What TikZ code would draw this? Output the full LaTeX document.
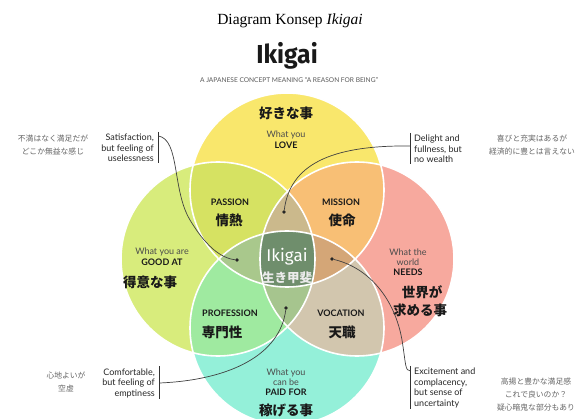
\documentclass[tikz,border=0pt]{standalone}
\usepackage{fontspec}
\setmainfont{Liberation Serif}
\setsansfont{Lato}
\newfontfamily\jp{Noto Sans CJK JP}
\newfontfamily\ikifont{Fira Sans}
\definecolor{cT}{HTML}{F9E76C}
\definecolor{cL}{HTML}{D8EC7C}
\definecolor{cR}{HTML}{F7A99E}
\definecolor{cB}{HTML}{94F0D9}
\definecolor{cTL}{HTML}{D6E262}
\definecolor{cTR}{HTML}{F8BF75}
\definecolor{cLB}{HTML}{9FEAA0}
\definecolor{cRB}{HTML}{D2C6AE}
\definecolor{cTLR}{HTML}{CBB98C}
\definecolor{cTLB}{HTML}{A9C88C}
\definecolor{cTRB}{HTML}{D4A677}
\definecolor{cLRB}{HTML}{A6C58E}
\definecolor{cQ}{HTML}{6F8E6C}
\tikzset{
  lbl/.style={font=\sffamily\fontsize{9}{10}\selectfont, text=black!70, align=center, inner sep=0pt},
  capl/.style={font=\sffamily\bfseries\fontsize{9}{10}\selectfont, text=black!90, align=center, inner sep=0pt},
  jpl/.style={font=\jp\bfseries\fontsize{13.5}{18}\selectfont, text=black!90, align=center, inner sep=0pt},
  note/.style={font=\sffamily\fontsize{9}{10.5}\selectfont, text=black!85, inner sep=0pt},
  jpnote/.style={font=\jp\fontsize{7.8}{13}\selectfont, text=black!60, align=center, inner sep=0pt},
  dotn/.style={circle, fill=black!85, inner sep=0pt, minimum size=3.6pt},
  conn/.style={draw=black!75, line width=0.7pt},
  barl/.style={draw=black!80, line width=1.3pt},
  ring/.style={draw=white, line width=1.6pt},
}
\begin{document}
\begin{tikzpicture}[x=1pt,y=-1pt]
\useasboundingbox (0,0) rectangle (580,419);
\fill[white] (0,0) rectangle (580,419);
\def\r{97}
\coordinate (T) at (287,190);
\coordinate (L) at (218,259);
\coordinate (R) at (357,259);
\coordinate (B) at (287,328);
% single circles
\fill[cT] (T) circle (\r);
\fill[cL] (L) circle (\r);
\fill[cR] (R) circle (\r);
\fill[cB] (B) circle (\r);
% pairs
\begin{scope}
  \clip (T) circle (\r);
  \fill[cTL] (L) circle (\r);
  \fill[cTR] (R) circle (\r);
\end{scope}
\begin{scope}
  \clip (B) circle (\r);
  \fill[cLB] (L) circle (\r);
  \fill[cRB] (R) circle (\r);
\end{scope}
% triples
\begin{scope}
  \clip (T) circle (\r);
  \begin{scope}
    \clip (L) circle (\r);
    \fill[cTLR] (R) circle (\r);
    \fill[cTLB] (B) circle (\r);
  \end{scope}
  \begin{scope}
    \clip (R) circle (\r);
    \fill[cTRB] (B) circle (\r);
  \end{scope}
\end{scope}
\begin{scope}
  \clip (B) circle (\r);
  \clip (L) circle (\r);
  \fill[cLRB] (R) circle (\r);
\end{scope}
% all four
\begin{scope}
  \clip (T) circle (\r);
  \clip (B) circle (\r);
  \clip (L) circle (\r);
  \fill[cQ] (R) circle (\r);
\end{scope}
% outlines
\draw[ring] (T) circle (\r);
\draw[ring] (L) circle (\r);
\draw[ring] (R) circle (\r);
\draw[ring] (B) circle (\r);

% titles
\node[font=\fontsize{15.5}{17}\selectfont, inner sep=0pt] (title) at (290,21) {Diagram Konsep \textit{Ikigai}};
\node[font=\ikifont\bfseries\fontsize{26}{28}\selectfont, inner sep=0pt, xscale=0.95, text=black!90] (iki) at (287,56) {Ikigai};
\node[font=\sffamily\fontsize{6.6}{7}\selectfont, text=black!65, inner sep=0pt] (sub) at (289,80) {A JAPANESE CONCEPT MEANING \textquotedblleft A REASON FOR BEING\textquotedblright};

% circle labels
\node[jpl] (loveJ) at (286,113) {好きな事};
\node[lbl] (love1) at (286,135) {What you};
\node[capl] (love2) at (286,145) {LOVE};

\node[lbl] (good1) at (162,252) {What you are};
\node[capl] (good2) at (162,262) {GOOD AT};
\node[jpl] (goodJ) at (150,282) {得意な事};

\node[lbl] (need1) at (408,257) {What the\\world};
\node[capl] (need2) at (408,272) {NEEDS};
\node[jpl] (needJ1) at (422,292) {世界が};
\node[jpl] (needJ2) at (420,310) {求める事};

\node[lbl] (paid1) at (286,377) {What you\\can be};
\node[capl] (paid2) at (286,392) {PAID FOR};
\node[jpl] (paidJ) at (286,410) {稼げる事};

\node[capl] (pas) at (230,202) {PASSION};
\node[jpl] (pasJ) at (229,220) {情熱};
\node[capl] (mis) at (341,202) {MISSION};
\node[jpl] (misJ) at (342,220) {使命};
\node[capl] (pro) at (230,313) {PROFESSION};
\node[jpl] (proJ) at (222,332) {専門性};
\node[capl] (voc) at (341,313) {VOCATION};
\node[jpl] (vocJ) at (342,332) {天職};

\node[font=\ikifont\fontsize{17}{18}\selectfont, text=white, inner sep=0pt] (ikc) at (287,257) {Ikigai};
\node[font=\jp\bfseries\fontsize{12.5}{13}\selectfont, text=white!92!black, inner sep=0pt] (ikcJ) at (287,278) {生き甲斐};

% annotations
\node[note, align=right, anchor=east] (sat) at (154,148) {Satisfaction,\\but feeling of\\uselessness};
\node[note, align=left, anchor=west] (del) at (414,149) {Delight and\\fullness, but\\no wealth};
\node[note, align=right, anchor=east] (com) at (155,383) {Comfortable,\\but feeling of\\emptiness};
\node[note, align=left, anchor=west] (exc) at (414,388) {Excitement and\\complacency,\\but sense of\\uncertainty};

\node[jpnote] (satJ) at (53,145) {不満はなく満足だが\\どこか無益な感じ};
\node[jpnote] (delJ) at (532,145) {喜びと充実はあるが\\経済的に豊とは言えない};
\node[jpnote] (comJ) at (66,382) {心地よいが\\空虚};
\node[jpnote] (excJ) at (536,395) {高揚と豊かな満足感\\これで良いのか？\\疑心暗鬼な部分もあり};

% bars
\draw[barl] ([xshift=4.5pt,yshift=2pt]sat.north east) -- ([xshift=4.5pt,yshift=-1pt]sat.south east);
\draw[barl] ([xshift=-3.5pt,yshift=2pt]del.north west) -- ([xshift=-3.5pt,yshift=-1pt]del.south west);
\draw[barl] ([xshift=4.5pt,yshift=2pt]com.north east) -- ([xshift=4.5pt,yshift=-1pt]com.south east);
\draw[barl] ([xshift=-3.5pt,yshift=2pt]exc.north west) -- ([xshift=-3.5pt,yshift=-1pt]exc.south west);

\coordinate (s1) at ([xshift=4.5pt,yshift=-2pt]sat.north east);
\coordinate (s2) at ([xshift=-3.5pt,yshift=3pt]del.west);
\coordinate (s3) at ([xshift=4.5pt]com.east);
\coordinate (s4) at ([xshift=-3.5pt,yshift=-3pt]exc.north west);

% dots
\node[dotn] (d1) at (237,260) {};
\node[dotn] (d2) at (284,212) {};
\node[dotn] (d3) at (286,308) {};
\node[dotn] (d4) at (332,259) {};

% connectors
\draw[conn] (s1) .. controls (180,140) and (172,190) .. (190,220) .. controls (205,245) and (220,258) .. (d1);
\draw[conn] (s2) .. controls (330,145) and (290,165) .. (d2);
\draw[conn] (s3) .. controls (230,380) and (280,355) .. (d3);
\draw[conn] (d4) .. controls (370,268) and (395,300) .. (402,340) .. controls (406,365) and (405,371) .. (s4);
\end{tikzpicture}
\end{document}
